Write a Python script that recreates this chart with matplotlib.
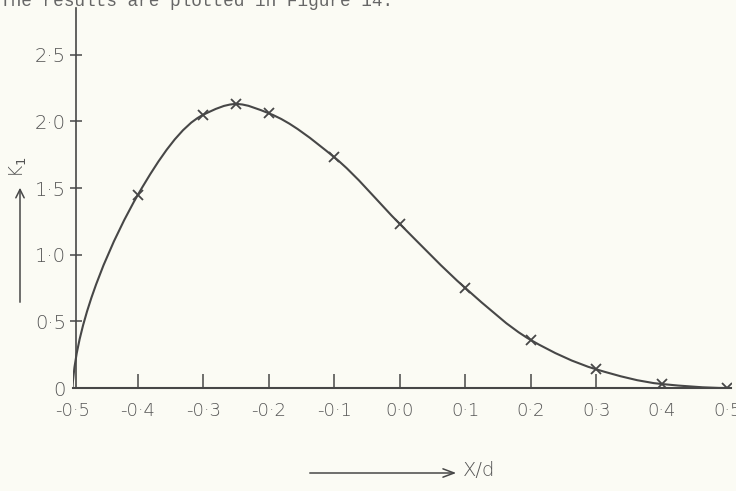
import numpy as np
import matplotlib.pyplot as plt
from matplotlib.path import Path
from matplotlib.patches import PathPatch, FancyArrowPatch

# values (K1 against x/d)
x_d = [-0.5, -0.4, -0.3, -0.25, -0.2, -0.1, 0.0, 0.1, 0.2, 0.3, 0.4, 0.5]
k1 = [0.0, 1.45, 2.05, 2.13, 2.06, 1.73, 1.23, 0.75, 0.36, 0.14, 0.03, 0.0]

xtick_vals = [-0.5, -0.4, -0.3, -0.2, -0.1, 0.0, 0.1, 0.2, 0.3, 0.4, 0.5]
xtick_text = ['-0·5', '-0·4', '-0·3', '-0·2', '-0·1', '0·0', '0·1', '0·2', '0·3', '0·4', '0·5']
ytick_vals = [0.0, 0.5, 1.0, 1.5, 2.0, 2.5]
ytick_text = ['0', '0·5', '1·0', '1·5', '2·0', '2·5']

paper = '#fbfbf4'
ink = '#474747'
lettering = '#555555'


def smooth_path(xs, ys):
    # monotone cubic through the points (harmonic mean slopes),
    # first segment leaves the origin almost vertically as drawn
    xs = np.asarray(xs)
    ys = np.asarray(ys)
    n = len(xs)
    h = np.diff(xs)
    d = np.diff(ys) / h
    slopes = np.zeros(n)
    for i in range(1, n - 1):
        if d[i - 1] * d[i] > 0:
            w1 = 2 * h[i] + h[i - 1]
            w2 = h[i] + 2 * h[i - 1]
            slopes[i] = (w1 + w2) / (w1 / d[i - 1] + w2 / d[i])
    verts = [(xs[0], ys[0])]
    codes = [Path.MOVETO]
    for i in range(n - 1):
        dx = h[i]
        if i == 0:
            c1 = (xs[0] + 0.006, ys[0] + 0.55)
        else:
            c1 = (xs[i] + dx / 3, ys[i] + slopes[i] * dx / 3)
        c2 = (xs[i + 1] - dx / 3, ys[i + 1] - slopes[i + 1] * dx / 3)
        verts += [c1, c2, (xs[i + 1], ys[i + 1])]
        codes += [Path.CURVE4] * 3
    return Path(verts, codes)


fig = plt.figure(figsize=(7.36, 4.91), dpi=100, facecolor=paper)
ax = fig.add_axes([72.5 / 736, 103 / 491, 658 / 736, 380 / 491])
ax.set_facecolor(paper)
ax.set_xlim(-0.5, 0.505)
ax.set_ylim(0, 2.85)

ax.add_patch(PathPatch(smooth_path(x_d, k1), fill=False, edgecolor=ink, lw=1.5))
ax.plot(x_d[1:], k1[1:], ls='none', marker='x', ms=7, mew=1.3, color=ink)

for side in ['top', 'right']:
    ax.spines[side].set_visible(False)
ax.spines['left'].set_position(('data', -0.494))
ax.spines['left'].set_color(ink)
ax.spines['bottom'].set_color(ink)
ax.spines['left'].set_linewidth(1.2)
ax.spines['bottom'].set_linewidth(1.5)

ax.set_xticks(xtick_vals)
ax.set_xticklabels(xtick_text)
ax.set_yticks(ytick_vals)
ax.set_yticklabels(ytick_text)
ax.tick_params(axis='x', direction='in', length=10, width=1.1, color=ink,
               pad=10, labelsize=13, labelcolor=lettering)
ax.tick_params(axis='y', direction='inout', length=9, width=1.1, color=ink,
               pad=3, labelsize=14, labelcolor=lettering)
xt = ax.xaxis.get_major_ticks()
for i in [0, 9, 10]:
    xt[i].tick1line.set_visible(False)
ax.yaxis.get_major_ticks()[0].tick1line.set_visible(False)
for lab in ax.get_xticklabels() + ax.get_yticklabels():
    lab.set_fontweight('light')

# axis captions drawn as arrows, like the hand lettering
fig.patches.append(FancyArrowPatch(
    (20 / 736, 1 - 305 / 491), (20 / 736, 1 - 185 / 491), transform=fig.transFigure,
    arrowstyle='->,head_length=6,head_width=3', color=ink, lw=1.1))
fig.text(18 / 736, 1 - 167 / 491, 'K$_1$', rotation=90, ha='center', va='center',
         fontsize=13.5, color=lettering, fontweight='light')
fig.patches.append(FancyArrowPatch(
    (307 / 736, 1 - 473 / 491), (459 / 736, 1 - 473 / 491), transform=fig.transFigure,
    arrowstyle='->,head_length=8,head_width=3', color=ink, lw=1.1))
fig.text(463 / 736, 1 - 471 / 491, 'X/d', ha='left', va='center',
         fontsize=14, color=lettering, fontweight='light')

# the line of typescript cut off at the top of the page
fig.text(0, 1 - 6 / 491, 'The results are plotted in Figure 14.', ha='left',
         va='baseline', family='Liberation Mono', fontsize=12.8, color='#666666')

fig.savefig('out.png', dpi=100, facecolor=paper)
